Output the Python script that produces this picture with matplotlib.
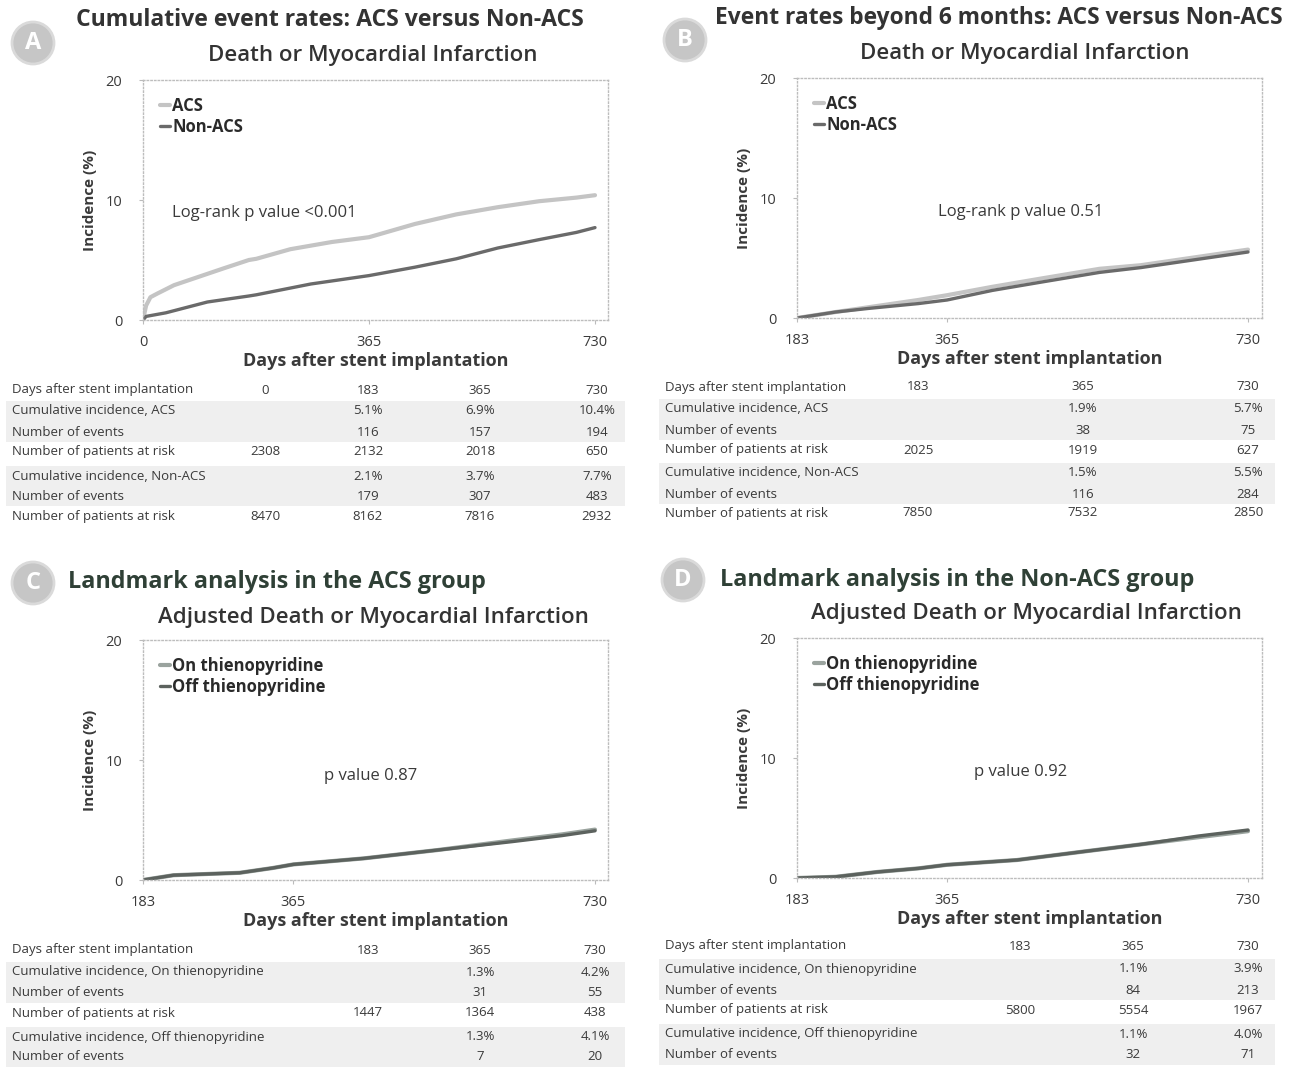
import matplotlib
matplotlib.use("Agg")
import matplotlib.pyplot as plt
from matplotlib.patches import Circle, Rectangle

plt.rcParams['font.family'] = ['Open Sans', 'DejaVu Sans']

W, H = 1295, 1068
TXT = '#3a3a3a'
GREEN = '#2f4036'
LIGHT = '#c4c4c4'
DARK = '#6a6a6a'

# ---- curve data (days, cumulative incidence %) ----
a_days = [0, 5, 12, 23, 50, 90, 130, 171, 183, 238, 305, 365, 439, 506, 573, 640, 700, 730]
a_acs = [0, 1.2, 1.9, 2.2, 2.9, 3.6, 4.3, 5.0, 5.1, 5.9, 6.5, 6.9, 8.0, 8.8, 9.4, 9.9, 10.2, 10.4]
a_non_days = [0, 5, 37, 104, 171, 183, 271, 365, 439, 506, 573, 640, 700, 730]
a_non = [0, 0.3, 0.6, 1.5, 2.0, 2.1, 3.0, 3.7, 4.4, 5.1, 6.0, 6.7, 7.3, 7.7]

b_days = [183, 230, 270, 330, 365, 420, 480, 550, 600, 650, 700, 730]
b_acs = [0, 0.5, 0.9, 1.5, 1.9, 2.6, 3.3, 4.1, 4.4, 4.9, 5.4, 5.7]
b_non = [0, 0.5, 0.8, 1.2, 1.5, 2.3, 3.0, 3.8, 4.2, 4.7, 5.2, 5.5]

c_days = [183, 220, 300, 340, 365, 450, 540, 630, 690, 730]
c_on = [0, 0.4, 0.6, 1.0, 1.3, 1.8, 2.5, 3.3, 3.8, 4.2]
c_off = [0, 0.4, 0.6, 1.0, 1.3, 1.8, 2.5, 3.2, 3.7, 4.1]

d_days = [183, 230, 280, 330, 365, 450, 530, 600, 670, 730]
d_on = [0, 0.1, 0.5, 0.8, 1.1, 1.5, 2.2, 2.8, 3.4, 3.9]
d_off = [0, 0.1, 0.5, 0.8, 1.1, 1.5, 2.2, 2.8, 3.5, 4.0]

# ---- tables below each panel ----
a_cols = ['0', '183', '365', '730']
a_rows = ['Days after stent implantation', 'Cumulative incidence, ACS', 'Number of events',
          'Number of patients at risk', 'Cumulative incidence, Non-ACS', 'Number of events',
          'Number of patients at risk']
a_vals = [['', '5.1%', '6.9%', '10.4%'], ['', '116', '157', '194'], ['2308', '2132', '2018', '650'],
          ['', '2.1%', '3.7%', '7.7%'], ['', '179', '307', '483'], ['8470', '8162', '7816', '2932']]

b_cols = ['183', '365', '730']
b_rows = a_rows
b_vals = [['', '1.9%', '5.7%'], ['', '38', '75'], ['2025', '1919', '627'],
          ['', '1.5%', '5.5%'], ['', '116', '284'], ['7850', '7532', '2850']]

c_cols = ['183', '365', '730']
c_rows = ['Days after stent implantation', 'Cumulative incidence, On thienopyridine', 'Number of events',
          'Number of patients at risk', 'Cumulative incidence, Off thienopyridine', 'Number of events']
c_vals = [['', '1.3%', '4.2%'], ['', '31', '55'], ['1447', '1364', '438'],
          ['', '1.3%', '4.1%'], ['', '7', '20']]

d_cols = ['183', '365', '730']
d_rows = c_rows
d_vals = [['', '1.1%', '3.9%'], ['', '84', '213'], ['5800', '5554', '1967'],
          ['', '1.1%', '4.0%'], ['', '32', '71']]

fig = plt.figure(figsize=(W / 100, H / 100), dpi=100)
fig.patch.set_facecolor('white')


def fx(x):
    return x / W


def fy(y):
    return 1 - y / H


def make_axes(left, bottom_px, x0, x730_px):
    # axes box is 465 x 240 px; x scale set from where day 730 lands
    ax = fig.add_axes([fx(left), fy(bottom_px), 465 / W, 240 / H])
    scale = (x730_px - left) / (730 - x0)
    ax.set_xlim(x0, x0 + 465 / scale)
    ax.set_ylim(0, 20)
    ax.set_yticks([0, 10, 20])
    ax.set_xticks([x0, 365, 730])
    ax.tick_params(colors='#bbbbbb', labelcolor=TXT, labelsize=10.5, length=3)
    ax.tick_params(axis='y', pad=12)
    ax.tick_params(axis='x', pad=8)
    for sp in ax.spines.values():
        sp.set_linestyle(':')
        sp.set_color('#bdbdbd')
        sp.set_linewidth(1)
    ax.set_ylabel('Incidence (%)', fontsize=11, fontweight='bold', color=TXT, labelpad=6)
    ax.set_xlabel('Days after stent implantation', fontsize=13, fontweight='bold', color=TXT, labelpad=1)
    return ax


def curves(ax, d1, y1, d2, y2, lab1, lab2, c1, c2):
    ax.plot(d1, y1, color=c1, lw=3, label=lab1, solid_capstyle='round')
    ax.plot(d2, y2, color=c2, lw=2.4, label=lab2, solid_capstyle='round')
    leg = ax.legend(loc='upper left', frameon=False, handlelength=0.6, handletextpad=0.15,
                    labelspacing=0.2, borderaxespad=0.6,
                    prop={'weight': 'bold', 'size': 12})
    for t in leg.get_texts():
        t.set_color('#2a2a2a')


def badge(x, y, letter):
    fig.patches.append(Circle((x / 100, (H - y) / 100), 0.21, transform=fig.dpi_scale_trans,
                              facecolor='#c6c6c6', edgecolor='#dadada', lw=2))
    fig.text(fx(x), fy(y), letter, ha='center', va='center', color='white',
             fontsize=17, fontweight='bold')


def table(rows, cols, vals, left, col_x, row_y, band_right):
    # light bands behind the incidence / events rows of each group
    bands = [(row_y[1] - 10, row_y[2] + 10), (row_y[4] - 10, row_y[5] + 10)]
    for y0, y1 in bands:
        fig.patches.append(Rectangle((fx(left - 6), fy(y1)), (band_right - left + 6) / W, (y1 - y0) / H,
                                     transform=fig.transFigure, facecolor='#efefef', edgecolor='none', zorder=0))
    for r, (label, y) in enumerate(zip(rows, row_y)):
        fig.text(fx(left), fy(y), label, ha='left', va='center', fontsize=9.5, color=TXT)
        cells = cols if r == 0 else vals[r - 1]
        for x, v in zip(col_x, cells):
            fig.text(fx(x), fy(y), v, ha='center', va='center', fontsize=9.5, color=TXT)


# Panel A
axA = make_axes(143, 320, 0, 595)
curves(axA, a_days, a_acs, a_non_days, a_non, 'ACS', 'Non-ACS', LIGHT, DARK)
axA.text(0.062, 0.446, 'Log-rank p value <0.001', transform=axA.transAxes, fontsize=12,
         color=TXT, va='center')
badge(33, 43, 'A')
fig.text(fx(330), fy(20), 'Cumulative event rates: ACS versus Non-ACS', ha='center', va='center',
         fontsize=16.6, fontweight='bold', color='#333333')
fig.text(fx(373), fy(56), 'Death or Myocardial Infarction', ha='center', va='center',
         fontsize=16, fontweight='semibold', color='#333333')
table(a_rows, a_cols, a_vals, 12, [265, 368, 480, 597], [390, 411, 432, 452, 476, 496, 516], 625)

# Panel B
axB = make_axes(797, 318, 183, 1248)
curves(axB, b_days, b_acs, b_days, b_non, 'ACS', 'Non-ACS', LIGHT, DARK)
axB.text(0.48, 0.44, 'Log-rank p value 0.51', transform=axB.transAxes, fontsize=12,
         color=TXT, va='center', ha='center')
badge(685, 40, 'B')
fig.text(fx(999), fy(18), 'Event rates beyond 6 months: ACS versus Non-ACS', ha='center', va='center',
         fontsize=16.4, fontweight='bold', color='#333333')
fig.text(fx(1025), fy(53), 'Death or Myocardial Infarction', ha='center', va='center',
         fontsize=16, fontweight='semibold', color='#333333')
table(b_rows, b_cols, b_vals, 665, [918, 1083, 1248], [387, 409, 430, 450, 473, 494, 513], 1275)

# Panel C
axC = make_axes(143, 880, 183, 595)
curves(axC, c_days, c_on, c_days, c_off, 'On thienopyridine', 'Off thienopyridine', '#9aa39e', '#5c625e')
axC.text(0.49, 0.433, 'p value 0.87', transform=axC.transAxes, fontsize=12,
         color=TXT, va='center', ha='center')
badge(33, 583, 'C')
fig.text(fx(68), fy(582), 'Landmark analysis in the ACS group', ha='left', va='center',
         fontsize=16.8, fontweight='bold', color=GREEN)
fig.text(fx(373), fy(617), 'Adjusted Death or Myocardial Infarction', ha='center', va='center',
         fontsize=16, fontweight='semibold', color='#333333')
table(c_rows, c_cols, c_vals, 12, [368, 480, 595], [950, 972, 993, 1013, 1037, 1057], 625)

# Panel D
axD = make_axes(797, 878, 183, 1248)
curves(axD, d_days, d_on, d_days, d_off, 'On thienopyridine', 'Off thienopyridine', '#9aa39e', '#5c625e')
axD.text(0.48, 0.44, 'p value 0.92', transform=axD.transAxes, fontsize=12,
         color=TXT, va='center', ha='center')
badge(683, 580, 'D')
fig.text(fx(720), fy(580), 'Landmark analysis in the Non-ACS group', ha='left', va='center',
         fontsize=16.8, fontweight='bold', color=GREEN)
fig.text(fx(1026), fy(614), 'Adjusted Death or Myocardial Infarction', ha='center', va='center',
         fontsize=16, fontweight='semibold', color='#333333')
table(d_rows, d_cols, d_vals, 665, [1020, 1133, 1248], [946, 969, 990, 1010, 1034, 1055], 1275)

fig.savefig('out.png', dpi=100, facecolor='white')
